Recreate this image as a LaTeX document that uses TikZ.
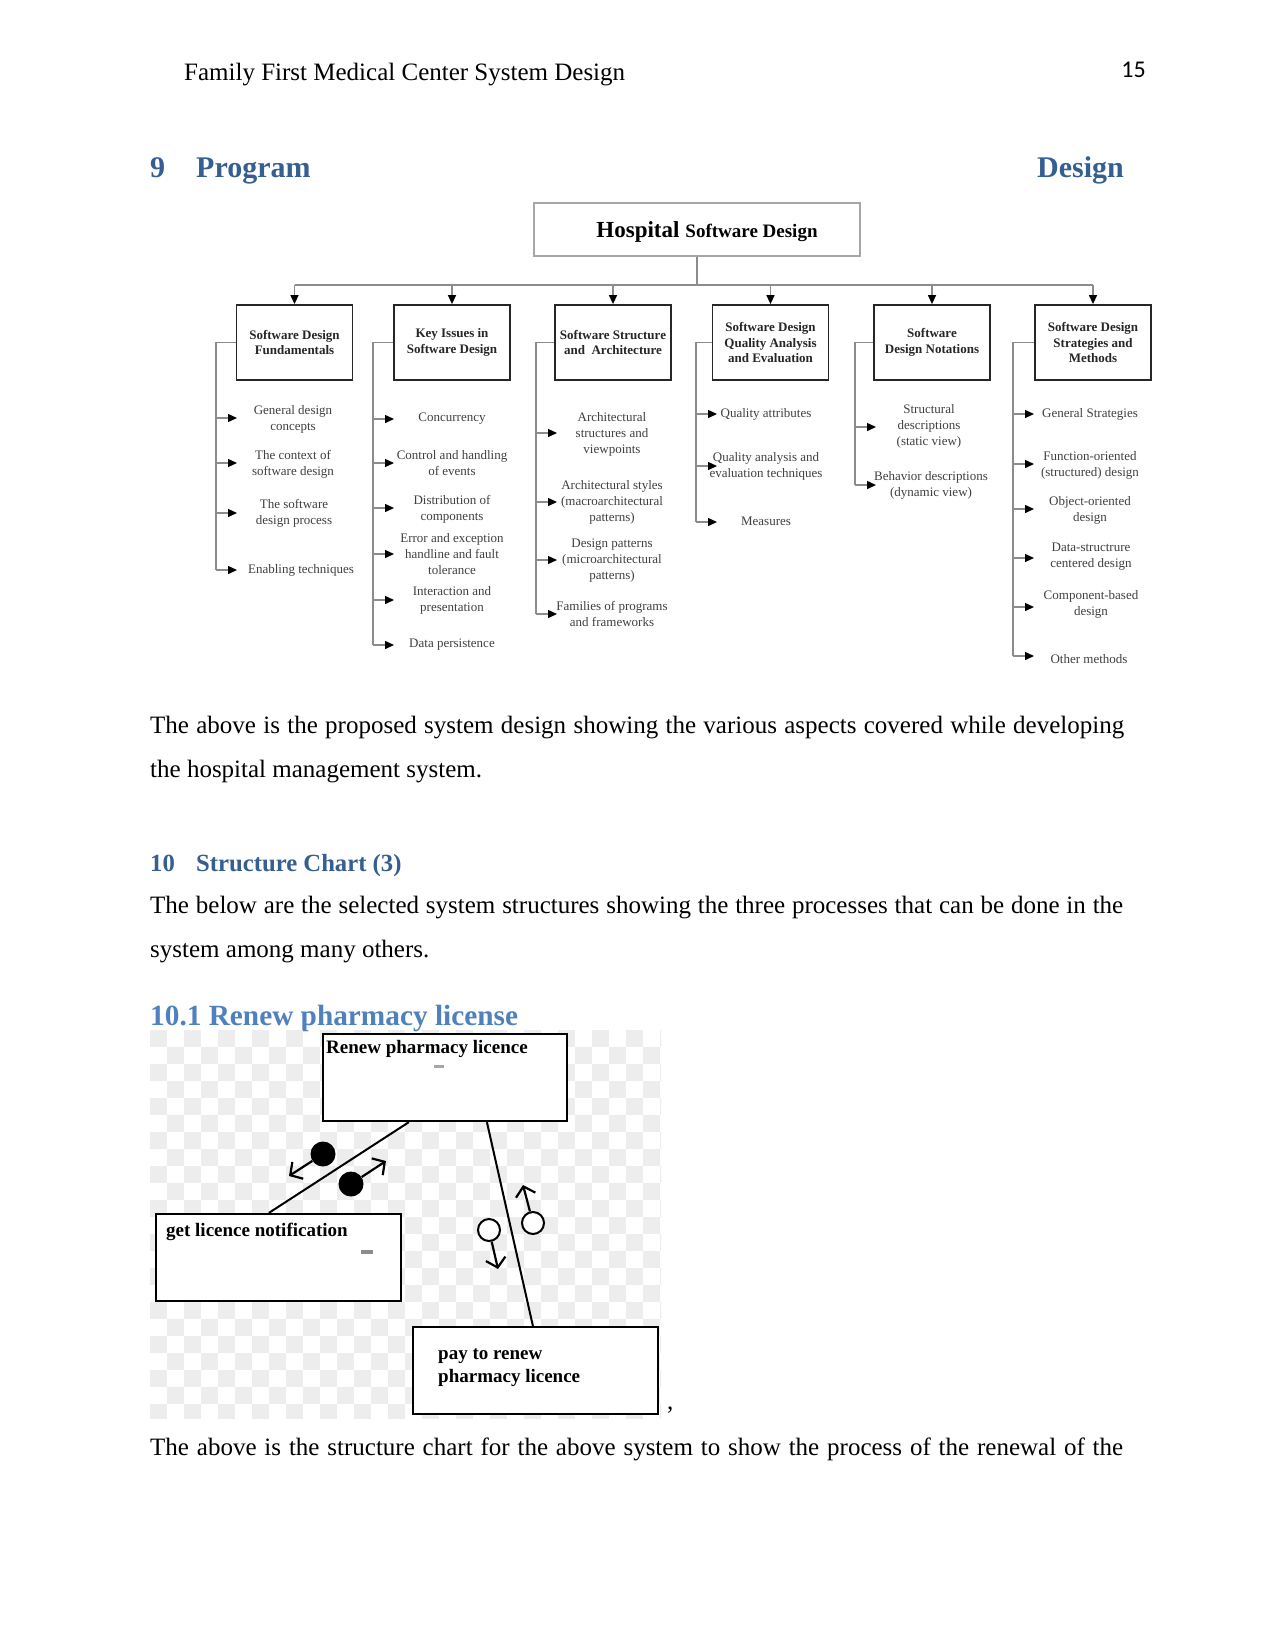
\documentclass[tikz,border=0pt]{standalone}
\usepackage{fontspec}
\setmainfont{Liberation Serif}
\newfontfamily\pnfont{Carlito}
\usetikzlibrary{arrows.meta,calc}
\definecolor{hdark}{RGB}{54,95,145}
\definecolor{hlight}{RGB}{79,129,189}
\begin{document}
\begin{tikzpicture}[x=1pt,y=-1pt,
  body/.style={anchor=base west,inner sep=0,font=\fontsize{25}{30}\selectfont},
  rootbox/.style={draw=black!35,line width=1.3,minimum width=326,minimum height=53,inner sep=0},
  cbox/.style={draw=black!85,line width=1.8,minimum width=116,minimum height=75,inner sep=1,align=center,font=\fontsize{13}{15.5}\selectfont\bfseries,text=black!85},
  tline/.style={draw=black!45,line width=1.4},
  darrow/.style={tline,-{Triangle[length=9pt,width=8pt,color=black]}},
  larrow/.style={tline,-{Triangle[length=9pt,width=8pt,color=black]}},
  leaf/.style={align=center,inner sep=0,font=\fontsize{13}{16}\selectfont,text=black!75},
  scbox/.style={draw=black,line width=2.2,fill=white,inner sep=0},
  sctext/.style={anchor=base west,inner sep=0,font=\fontsize{19}{23}\selectfont\bfseries},
  scline/.style={draw=black,line width=2},
  couple/.style={draw=black,line width=2.2,-{Straight Barb[length=9pt,width=20pt,line width=2.2pt]}},
  checker/.style={fill=black!7}
]
\useasboundingbox (0,0) rectangle (1275,1651);
\fill[white] (0,0) rectangle (1275,1651);

% header
\node[body] (hdr) at (184,81) {Family First Medical Center System Design};
\node[anchor=base east,inner sep=0,font=\pnfont\fontsize{24}{28}\selectfont] (pgn) at (1146,78) {15};

% heading 9
\node[anchor=base west,inner sep=0,text=hdark,font=\fontsize{30}{34}\selectfont\bfseries] (h9n) at (150,177) {9};
\node[anchor=base west,inner sep=0,text=hdark,font=\fontsize{30}{34}\selectfont\bfseries] (h9a) at (196,177) {Program};
\node[anchor=base east,inner sep=0,text=hdark,font=\fontsize{30}{34}\selectfont\bfseries] (h9b) at (1124,177) {Design};

% ---------- tree ----------
\node[rootbox] (root) at (697,229.5) {};
\node[anchor=base,inner sep=0,font=\bfseries] (roott) at (707,237) {{\fontsize{23}{26}\selectfont Hospital}\hspace{6pt}{\fontsize{19}{26}\selectfont Software Design}};

\node[cbox] (c1) at (294.5,342.5) {Software Design\\Fundamentals};
\node[cbox] (c2) at (452,342.5) {Key Issues in\\Software Design};
\node[cbox] (c3) at (613,342.5) {Software Structure\\and\ \ Architecture};
\node[cbox] (c4) at (770.5,342.5) {Software Design\\Quality Analysis\\and Evaluation};
\node[cbox] (c5) at (932,342.5) {Software\\Design Notations};
\node[cbox] (c6) at (1093,342.5) {Software Design\\Strategies and\\Methods};

\coordinate (bus) at (697,285);
\draw[tline] (root.south) -- (bus);
\draw[tline] (bus -| c1) -- (bus -| c6);
\foreach \c in {c1,c2,c3,c4,c5,c6} {\draw[darrow] (bus -| \c) -- (\c.north);}

% rails x
\coordinate (r1) at (216,0);
\coordinate (r2) at (373,0);
\coordinate (r3) at (536,0);
\coordinate (r4) at (696,0);
\coordinate (r5) at (855,0);
\coordinate (r6) at (1013,0);

% column 1
\coordinate (t1a) at (237,418); \coordinate (t1b) at (237,463);
\coordinate (t1c) at (237,513); \coordinate (t1d) at (237,570);
\draw[tline] (c1.west) -| (r1 |- t1d);
\foreach \t in {t1a,t1b,t1c,t1d} {\draw[larrow] (r1 |- \t) -- (\t);}
\node[leaf] (l1a) at (293,419) {General design\\concepts};
\node[leaf] (l1b) at (293,464) {The context of\\software design};
\node[leaf] (l1c) at (294,513) {The software\\design process};
\node[leaf] (l1d) at (301,570) {Enabling techniques};

% column 2
\coordinate (t2a) at (394,419); \coordinate (t2b) at (394,463);
\coordinate (t2c) at (394,508); \coordinate (t2d) at (394,554);
\coordinate (t2e) at (394,600); \coordinate (t2f) at (394,645);
\draw[tline] (c2.west) -| (r2 |- t2f);
\foreach \t in {t2a,t2b,t2c,t2d,t2e,t2f} {\draw[larrow] (r2 |- \t) -- (\t);}
\node[leaf] (l2a) at (452,419) {Concurrency};
\node[leaf] (l2b) at (452,463) {Control and handling\\of events};
\node[leaf] (l2c) at (452,509) {Distribution of\\components};
\node[leaf] (l2d) at (452,554) {Error and exception\\handline and fault\\tolerance};
\node[leaf] (l2e) at (452,600) {Interaction and\\presentation};
\node[leaf] (l2f) at (452,645) {Data persistence};

% column 3
\coordinate (t3a) at (557,433); \coordinate (t3b) at (557,502);
\coordinate (t3c) at (557,560); \coordinate (t3d) at (557,614);
\draw[tline] (c3.west) -| (r3 |- t3d);
\foreach \t in {t3a,t3b,t3c,t3d} {\draw[larrow] (r3 |- \t) -- (\t);}
\node[leaf] (l3a) at (612,434) {Architectural\\structures and\\viewpoints};
\node[leaf] (l3b) at (612,502) {Architectural styles\\(macroarchitectural\\patterns)};
\node[leaf] (l3c) at (612,561) {Design patterns\\(microarchitectural\\patterns)};
\node[leaf] (l3d) at (612,614) {Families of programs\\and frameworks};

% column 4
\coordinate (t4a) at (717,414); \coordinate (t4b) at (717,466);
\coordinate (t4c) at (717,522);
\draw[tline] (c4.west) -| (r4 |- t4c);
\foreach \t in {t4a,t4b,t4c} {\draw[larrow] (r4 |- \t) -- (\t);}
\node[leaf] (l4a) at (766,414) {Quality attributes};
\node[leaf] (l4b) at (766,466) {Quality analysis and\\evaluation techniques};
\node[leaf] (l4c) at (766,521) {Measures};

% column 5
\coordinate (t5a) at (876,427); \coordinate (t5b) at (876,485);
\draw[tline] (c5.west) -| (r5 |- t5b);
\foreach \t in {t5a,t5b} {\draw[larrow] (r5 |- \t) -- (\t);}
\node[leaf] (l5a) at (929,426) {Structural\\descriptions\\(static view)};
\node[leaf] (l5b) at (931,485) {Behavior descriptions\\(dynamic view)};

% column 6
\coordinate (t6a) at (1034,414); \coordinate (t6b) at (1034,464);
\coordinate (t6c) at (1034,509); \coordinate (t6d) at (1034,558);
\coordinate (t6e) at (1034,607); \coordinate (t6f) at (1034,656);
\draw[tline] (c6.west) -| (r6 |- t6f);
\foreach \t in {t6a,t6b,t6c,t6d,t6e,t6f} {\draw[larrow] (r6 |- \t) -- (\t);}
\node[leaf] (l6a) at (1090,414) {General Strategies};
\node[leaf] (l6b) at (1090,465) {Function-oriented\\(structured) design};
\node[leaf] (l6c) at (1090,510) {Object-oriented\\design};
\node[leaf] (l6d) at (1091,557) {Data-structrure\\centered design};
\node[leaf] (l6e) at (1091,604) {Component-based\\design};
\node[leaf] (l6f) at (1089,659) {Other methods};

% ---------- body text ----------
\node[body] (p1) at (150,733) {\makebox[974pt][s]{The above is the proposed system design showing the various aspects covered while developing}};
\node[body] (p2) at (150,777) {the hospital management system.};

\node[anchor=base west,inner sep=0,text=hdark,font=\fontsize{24.7}{28}\selectfont\bfseries] (h10n) at (150,871) {10};
\node[anchor=base west,inner sep=0,text=hdark,font=\fontsize{24.7}{28}\selectfont\bfseries] (h10) at (196,871) {Structure Chart (3)};

\node[body] (p3) at (150,913) {\makebox[973pt][s]{The below are the selected system structures showing the three processes that can be done in the}};
\node[body] (p4) at (150,957) {system among many others.};

\node[anchor=base west,inner sep=0,text=hlight,font=\fontsize{29.3}{33}\selectfont\bfseries] (h101) at (150,1025) {10.1 Renew pharmacy license};

% ---------- structure chart ----------
\begin{scope}
\clip (150,1030) rectangle (661,1418);
\foreach \i in {0,...,30} {
  \foreach \j in {0,...,22} {
    \pgfmathtruncatemacro\k{mod(\i+\j,2)}
    \ifnum\k=0 \fill[checker] (150+17*\i,1030+17*\j) rectangle ++(17,17); \fi
  }
}
\end{scope}

\node[scbox,minimum width=244,minimum height=87] (tb) at (445,1077.5) {};
\node[scbox,minimum width=245,minimum height=87] (lb) at (278.5,1257.5) {};
\node[scbox,minimum width=245,minimum height=87] (bb) at (535.5,1370.5) {};

\node[sctext] (tbt) at (326,1053) {Renew pharmacy licence};
\node[sctext] (lbt) at (166,1236) {get licence notification};
\node[sctext] (bbt1) at (438,1359) {pay to renew};
\node[sctext] (bbt2) at (438,1382) {pharmacy licence};

\fill[black!35] (434,1065) rectangle (444,1067.5);
\fill[black!45] (361,1250) rectangle (373,1254);

\draw[scline] ([xshift=87pt]tb.south west) -- ([xshift=114pt]lb.north west);
\draw[scline] ([xshift=165pt]tb.south west) -- ([xshift=121pt]bb.north west);

\node[circle,fill=black,minimum size=25,inner sep=0] (fc1) at (323,1154) {};
\node[circle,fill=black,minimum size=25,inner sep=0] (fc2) at (351,1184) {};
\node[circle,draw=black,line width=2,fill=white,minimum size=22,inner sep=0] (oc1) at (489,1230) {};
\node[circle,draw=black,line width=2,fill=white,minimum size=22,inner sep=0] (oc2) at (533,1223) {};
\coordinate (ct1) at (289,1176);
\coordinate (ct2) at (386,1161);
\coordinate (ct3) at (498,1269);
\coordinate (ct4) at (523,1185);
\draw[couple] (fc1) -- (ct1);
\draw[couple] (fc2) -- (ct2);
\draw[couple] (oc1) -- (ct3);
\draw[couple] (oc2) -- (ct4);

\node[body] (comma) at (667,1409) {,};

\node[body] (p5) at (150,1455) {\makebox[973pt][s]{The above is the structure chart for the above system to show the process of the renewal of the}};
\end{tikzpicture}
\end{document}
